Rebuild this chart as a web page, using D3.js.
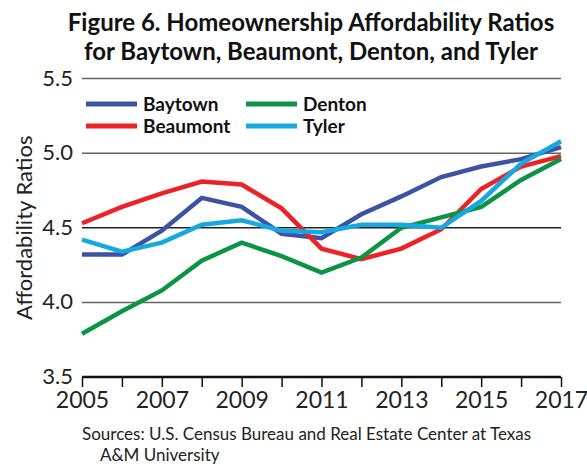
<!DOCTYPE html>
<html>
<head>
<meta charset="utf-8">
<script src="https://cdn.jsdelivr.net/npm/d3@7"></script>
<style>
  body { margin: 0; background: #fff; }
  text { font-family: Lato, 'Open Sans', sans-serif; }
</style>
</head>
<body>
<svg width="587" height="464"></svg>
<script>

// data
let years = [2005, 2006, 2007, 2008, 2009, 2010, 2011, 2012, 2013, 2014, 2015, 2016, 2017]
let baytown  = [4.32, 4.32, 4.48, 4.70, 4.64, 4.46, 4.43, 4.59, 4.71, 4.84, 4.91, 4.96, 5.04]
let beaumont = [4.53, 4.64, 4.73, 4.81, 4.79, 4.63, 4.36, 4.29, 4.36, 4.49, 4.76, 4.91, 4.98]
let denton   = [3.79, 3.94, 4.08, 4.28, 4.40, 4.31, 4.20, 4.30, 4.50, 4.57, 4.64, 4.82, 4.96]
let tyler    = [4.42, 4.34, 4.40, 4.52, 4.55, 4.48, 4.47, 4.52, 4.52, 4.50, 4.68, 4.93, 5.08]
let yTicks = [3.5, 4.0, 4.5, 5.0, 5.5]
let xTickLabels = [2005, 2007, 2009, 2011, 2013, 2015, 2017]

let series = [
  { name: 'Baytown', values: baytown, color: '#3c53a4' },
  { name: 'Beaumont', values: beaumont, color: '#ec2227' },
  { name: 'Denton', values: denton, color: '#0b9444' },
  { name: 'Tyler', values: tyler, color: '#16a9e1' }
]

let svg = d3.select('svg')

let x = d3.scaleLinear().domain([2005, 2017]).range([82, 561])
let y = d3.scaleLinear().domain([3.5, 5.5]).range([377, 78.5])

// title
let title = svg.append('text')
  .attr('text-anchor', 'middle')
  .attr('font-weight', 'bold')
  .attr('font-size', 24)
  .attr('fill', '#111')
title.append('tspan').attr('x', 311).attr('y', 31).text('Figure 6. Homeownership Affordability Ratios')
title.append('tspan').attr('x', 311).attr('y', 60).text('for Baytown, Beaumont, Denton, and Tyler')

// gridlines
svg.append('g')
  .selectAll('line')
  .data(yTicks.filter(d => d > 3.5))
  .enter().append('line')
  .attr('x1', x(2005))
  .attr('x2', x(2017))
  .attr('y1', d => y(d))
  .attr('y2', d => y(d))
  .attr('stroke', d => d === 4.5 ? '#222' : '#666')
  .attr('stroke-width', 1.5)

// y labels
svg.append('g')
  .selectAll('text')
  .data(yTicks)
  .enter().append('text')
  .attr('x', 73)
  .attr('y', d => y(d) + 7)
  .attr('text-anchor', 'end')
  .attr('font-size', 22)
  .attr('fill', '#222')
  .text(d => d.toFixed(1))

svg.append('text')
  .attr('transform', 'translate(32,' + y(4.5) + ') rotate(-90)')
  .attr('text-anchor', 'middle')
  .attr('font-size', 22)
  .attr('fill', '#222')
  .text('Affordability Ratios')

// x axis
let xAxis = d3.axisBottom(x)
  .tickValues(years)
  .tickSize(10)
  .tickFormat(d => xTickLabels.includes(d) ? d : '')

let gx = svg.append('g')
  .attr('transform', 'translate(0,' + y(3.5) + ')')
  .call(xAxis)
gx.select('.domain').attr('stroke', '#111').attr('stroke-width', 2.5).attr('d', 'M' + x(2005) + ',0H' + x(2017))
gx.selectAll('.tick line').attr('stroke', '#111').attr('stroke-width', 1.5)
gx.selectAll('.tick text')
  .attr('font-size', 23)
  .attr('font-family', 'Lato, sans-serif')
  .attr('fill', '#222')
  .attr('dy', null)
  .attr('y', 31)

// lines
let line = d3.line()
  .x((d, i) => x(years[i]))
  .y(d => y(d))

svg.append('g')
  .selectAll('path')
  .data(series)
  .enter().append('path')
  .attr('d', d => line(d.values))
  .attr('fill', 'none')
  .attr('stroke', d => d.color)
  .attr('stroke-width', 4.5)
  .attr('stroke-linejoin', 'miter')

// legend
let legend = svg.append('g')
  .selectAll('g')
  .data(series)
  .enter().append('g')
  .attr('transform', (d, i) => 'translate(' + (i < 2 ? 86 : 246) + ',' + (i % 2 === 0 ? 104 : 126) + ')')

legend.append('line')
  .attr('x1', 0)
  .attr('x2', 51)
  .attr('stroke', d => d.color)
  .attr('stroke-width', 5)

legend.append('text')
  .attr('x', 57)
  .attr('y', 7)
  .attr('font-size', 19)
  .attr('font-weight', 'bold')
  .attr('fill', '#111')
  .text(d => d.name)

// sources
let src = svg.append('text')
  .attr('font-size', 17)
  .attr('fill', '#222')
src.append('tspan').attr('x', 82).attr('y', 440).text('Sources: U.S. Census Bureau and Real Estate Center at Texas')
src.append('tspan').attr('x', 100).attr('y', 461).text('A&M University')

</script>
</body>
</html>
